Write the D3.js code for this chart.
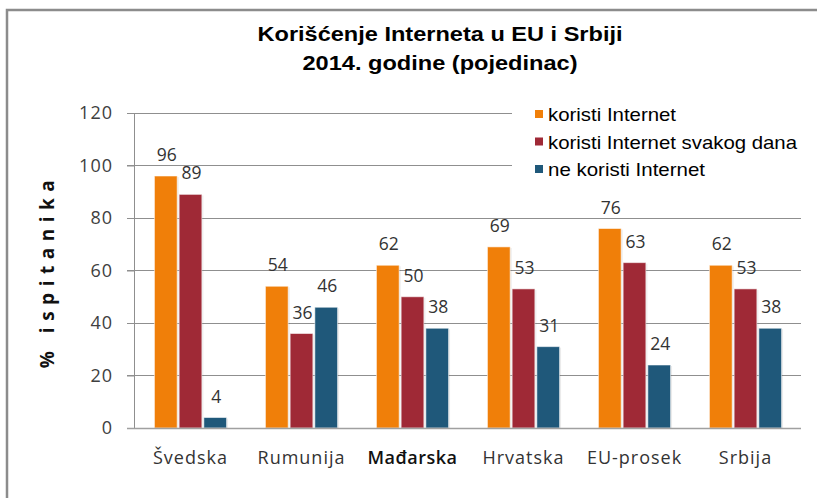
<!DOCTYPE html>
<html><head><meta charset="utf-8">
<script src="https://cdn.jsdelivr.net/npm/d3@7"></script>
<style>html,body{margin:0;padding:0;background:#fff;}svg{display:block;}</style>
</head><body>
<svg id="chart" width="817" height="498"></svg>
<script>
const categories = ["Švedska", "Rumunija", "Mađarska", "Hrvatska", "EU-prosek", "Srbija"];
const seriesNames = ["koristi Internet", "koristi Internet svakog dana", "ne koristi Internet"];
const koristi = [96, 54, 62, 69, 76, 62];
const svakogDana = [89, 36, 50, 53, 63, 53];
const neKoristi = [4, 46, 38, 31, 24, 38];
const yTicks = [0, 20, 40, 60, 80, 100, 120];
const titleLines = ["Korišćenje Interneta u EU i Srbiji", "2014. godine (pojedinac)"];
const yLabel = "% ispitanika";
const colors = ["#F07F09", "#9F2936", "#1F587A"];

const seriesValues = [koristi, svakogDana, neKoristi];
const svg = d3.select("#chart");

// frame
svg.append("path").attr("d", "M7,498 V10 H817").attr("fill", "none")
  .attr("stroke", "#8c8c8c").attr("stroke-width", 2.5);

const x0 = d3.scaleBand().domain(categories).range([135, 801]).paddingInner(0.35).paddingOuter(0.175);
const x1 = d3.scaleBand().domain(d3.range(3)).range([0, x0.bandwidth()]).paddingInner(0.08);
const y = d3.scaleLinear().domain([0, 120]).range([428, 113]);

// gridlines
svg.append("g").selectAll("line").data(yTicks.filter(d => d > 0)).join("line")
  .attr("x1", 127).attr("x2", 801).attr("y1", d => y(d)).attr("y2", d => y(d))
  .attr("stroke", "#8f8f8f").attr("stroke-width", 1).attr("shape-rendering", "crispEdges");

// bars
const groups = svg.append("g").selectAll("g").data(categories).join("g")
  .attr("transform", c => `translate(${x0(c)},0)`);
const barData = (c, ci) => seriesValues.map((vals, si) => ({si, v: vals[ci]}));
groups.each(function(c, ci) {
  const g = d3.select(this);
  const data = barData(c, ci);
  g.selectAll("rect.shadow").data(data).join("rect").attr("class", "shadow")
    .attr("x", d => x1(d.si) + 1.5).attr("width", x1.bandwidth())
    .attr("y", d => y(d.v) + 1).attr("height", d => y(0) - y(d.v) - 1)
    .attr("fill", "#000").attr("opacity", 0.08);
  g.selectAll("rect.bar").data(data).join("rect").attr("class", "bar")
    .attr("x", d => x1(d.si)).attr("width", x1.bandwidth())
    .attr("y", d => y(d.v)).attr("height", d => y(0) - y(d.v))
    .attr("fill", d => colors[d.si]).attr("stroke", "rgba(255,255,255,0.55)").attr("stroke-width", 1);
  g.selectAll("text.val").data(data).join("text").attr("class", "val")
    .attr("x", d => x1(d.si) + x1.bandwidth() / 2 + 1).attr("y", d => y(d.v) - 15)
    .attr("text-anchor", "middle").attr("font-family", "Open Sans, sans-serif")
    .attr("font-size", 17.5).attr("fill", "#333").text(d => d.v);
});

// y axis
const yAxis = svg.append("g").attr("transform", "translate(135,0)")
  .call(d3.axisLeft(y).tickValues(yTicks).tickSize(8).tickPadding(14));
yAxis.select(".domain").attr("stroke", "#8f8f8f").attr("d", `M-0.5,${y(0)}V${y(120)}`);
yAxis.selectAll(".tick line").attr("stroke", "#8f8f8f");
yAxis.selectAll(".tick text").attr("font-family", "Open Sans, sans-serif").attr("font-size", 18)
  .attr("letter-spacing", 1).attr("fill", "#404040");

// x axis
const xAxis = svg.append("g").attr("transform", `translate(0,${y(0)})`)
  .call(d3.axisBottom(x0).tickSize(0).tickPadding(36));
xAxis.select(".domain").attr("stroke", "#a0a0a0").attr("stroke-width", 1.5).attr("d", "M127,0.5H801");
xAxis.selectAll(".tick text").attr("font-family", "Open Sans, sans-serif").attr("font-size", 18)
  .attr("letter-spacing", 1).attr("fill", "#333").attr("dy", 0)
  .filter(d => d === "Mađarska").attr("font-weight", 600).attr("fill", "#111").attr("letter-spacing", 0.5);

// y label
svg.append("text").attr("transform", "translate(54,271) rotate(-90)")
  .attr("text-anchor", "middle").attr("font-family", "Open Sans, sans-serif")
  .attr("font-weight", 700).attr("font-size", 19).attr("letter-spacing", 6.5)
  .attr("fill", "#111").text(yLabel);

// title
const tl = svg.append("g");
const titleWidths = [365, 275];
tl.selectAll("text").data(titleLines).join("text")
  .attr("x", 440).attr("y", (d, i) => 41 + i * 29).attr("text-anchor", "middle")
  .attr("font-family", "Liberation Sans, Arial, sans-serif").attr("font-weight", 700)
  .attr("font-size", 20).attr("fill", "#000")
  .attr("textLength", (d, i) => titleWidths[i]).attr("lengthAdjust", "spacingAndGlyphs")
  .text(d => d);

// legend
const lg = svg.append("g");
lg.append("rect").attr("x", 512).attr("y", 96).attr("width", 300).attr("height", 94).attr("fill", "#fff");
const legendWidths = [128, 249, 157];
const items = lg.selectAll("g").data(seriesNames).join("g")
  .attr("transform", (d, i) => `translate(535,${121 + i * 27.5})`);
items.append("rect").attr("x", 0).attr("y", -11).attr("width", 8).attr("height", 8)
  .attr("fill", (d, i) => colors[i]);
items.append("text").attr("x", 13).attr("y", 0)
  .attr("font-family", "Liberation Sans, Arial, sans-serif").attr("font-size", 18.5)
  .attr("textLength", (d, i) => legendWidths[i]).attr("lengthAdjust", "spacingAndGlyphs")
  .attr("fill", "#000").text(d => d);
</script>
</body></html>
